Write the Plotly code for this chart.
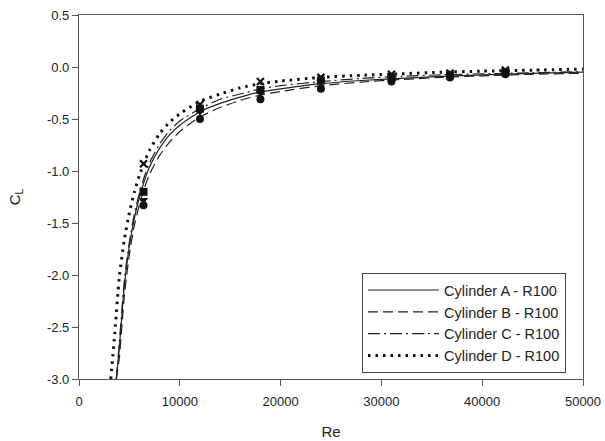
import plotly.graph_objects as go

# Measured lift coefficients at each Reynolds number
re_points = [6400, 12000, 18000, 24000, 31000, 36800, 42300]
cl_a_pts = [-1.20, -0.40, -0.22, -0.13, -0.10, -0.08, -0.05]
cl_b_pts = [-1.33, -0.50, -0.31, -0.21, -0.14, -0.10, -0.07]
cl_c_pts = [-1.28, -0.43, -0.25, -0.15, -0.11, -0.09, -0.06]
cl_d_pts = [-0.93, -0.36, -0.14, -0.10, -0.07, -0.06, -0.03]

# Fitted curves, sampled along Re
re_fit_abc = [3700, 4000, 4500, 5000, 5500, 6000, 6500, 7000, 8000, 9000, 10000,
              12000, 14000, 16000, 18000, 20000, 24000, 28000, 32000, 36000,
              40000, 45000, 50000]
cl_a_fit = [-3.00, -2.70, -2.10, -1.72, -1.45, -1.25, -1.09, -0.96, -0.78, -0.65, -0.56,
            -0.43, -0.35, -0.29, -0.24, -0.21, -0.16, -0.13, -0.11, -0.09,
            -0.075, -0.062, -0.05]
cl_b_fit = [-3.00, -2.80, -2.20, -1.80, -1.52, -1.32, -1.16, -1.03, -0.85, -0.72, -0.62,
            -0.48, -0.39, -0.32, -0.27, -0.235, -0.18, -0.145, -0.12, -0.10,
            -0.085, -0.07, -0.06]
cl_c_fit = [-3.00, -2.65, -2.05, -1.68, -1.41, -1.21, -1.05, -0.92, -0.74, -0.61, -0.52,
            -0.40, -0.31, -0.26, -0.21, -0.18, -0.14, -0.11, -0.09, -0.075,
            -0.065, -0.055, -0.045]
re_fit_d = [3150, 3500, 4000, 4500, 5000, 5500, 6000, 6500, 7000, 8000, 9000, 10000,
            12000, 14000, 16000, 18000, 20000, 24000, 28000, 32000, 36000,
            40000, 45000, 50000]
cl_d_fit = [-3.00, -2.62, -2.02, -1.66, -1.40, -1.20, -1.04, -0.91, -0.80, -0.64, -0.53, -0.45,
            -0.33, -0.26, -0.20, -0.16, -0.135, -0.10, -0.08, -0.065, -0.05,
            -0.04, -0.03, -0.02]

x_ticks = [0, 10000, 20000, 30000, 40000, 50000]
x_tick_labels = ["0", "10000", "20000", "30000", "40000", "50000"]
y_ticks = [-3.0, -2.5, -2.0, -1.5, -1.0, -0.5, 0.0, 0.5]
y_tick_labels = ["-3.0", "-2.5", "-2.0", "-1.5", "-1.0", "-0.5", "0.0", "0.5"]

names = ["Cylinder A - R100", "Cylinder B - R100", "Cylinder C - R100", "Cylinder D - R100"]

fig = go.Figure()

fits = [
    (re_fit_abc, cl_a_fit, dict(color="#222", width=1.2, dash="solid")),
    (re_fit_abc, cl_b_fit, dict(color="#222", width=1.2, dash="10px,5px")),
    (re_fit_abc, cl_c_fit, dict(color="#222", width=1.2, dash="12px,4px,2px,4px")),
    (re_fit_d, cl_d_fit, dict(color="#111", width=3, dash="2.5px,5px")),
]
for name, (xs, ys, line) in zip(names, fits):
    fig.add_trace(go.Scatter(x=xs, y=ys, mode="lines", name=name,
                             line=dict(shape="spline", smoothing=0.6, **line)))

markers = [
    (cl_a_pts, "square"),
    (cl_b_pts, "circle"),
    (cl_c_pts, "triangle-down"),
    (cl_d_pts, "x-thin"),
]
for ys, sym in markers:
    if sym == "x-thin":
        mk = dict(symbol=sym, size=7, line=dict(color="#111", width=2.2))
    else:
        mk = dict(symbol=sym, size=8, color="#111", line=dict(width=0))
    fig.add_trace(go.Scatter(x=re_points, y=ys, mode="markers", marker=mk,
                             showlegend=False, cliponaxis=False))

axis_common = dict(showgrid=False, zeroline=False, showline=True, linecolor="#555",
                   linewidth=1.2, mirror=True, ticks="outside", tickcolor="#555",
                   ticklen=6, tickwidth=1.2, automargin=False,
                   tickfont=dict(family="Liberation Sans, Arial", size=13, color="#222"))

fig.update_layout(
    width=605, height=441,
    margin=dict(l=79, r=22, t=15, b=62, autoexpand=False),
    paper_bgcolor="white", plot_bgcolor="white",
    font=dict(family="Liberation Sans, Arial", color="#222"),
    xaxis=dict(range=[0, 50000], tickvals=x_ticks, ticktext=x_tick_labels,
               ticklabelstandoff=4,
               title=dict(text="Re", font=dict(size=15), standoff=18), **axis_common),
    yaxis=dict(range=[-3.0, 0.5], tickvals=y_ticks, ticktext=y_tick_labels,
               title=dict(text="C<sub>L</sub>", font=dict(size=15), standoff=22), **axis_common),
    legend=dict(x=0.5615, y=0.291, xanchor="left", yanchor="top",
                bgcolor="white", bordercolor="#444", borderwidth=1,
                font=dict(family="Liberation Sans, Arial", size=14.5, color="#222"),
                itemwidth=71, tracegroupgap=0),
    showlegend=True,
)

fig.write_html("out.html")
